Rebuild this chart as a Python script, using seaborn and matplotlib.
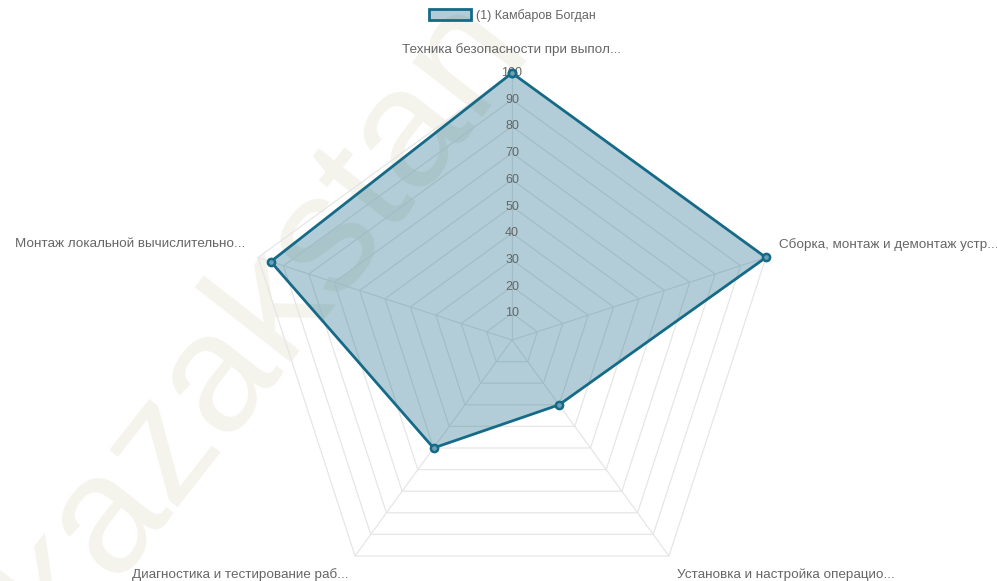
import numpy as np
import pandas as pd
import matplotlib
matplotlib.use("Agg")
import matplotlib.pyplot as plt
from matplotlib.patches import Patch
import seaborn as sns

categories = [
    "Техника безопасности при выпол...",
    "Сборка, монтаж и демонтаж устр...",
    "Установка и настройка операцио...",
    "Диагностика и тестирование раб...",
    "Монтаж локальной вычислительно...",
]
values = [100, 100, 30, 50, 95]
series_name = "(1) Камбаров Богдан"
ticks = [10, 20, 30, 40, 50, 60, 70, 80, 90, 100]

sns.set_style("white")
plt.rcParams["font.family"] = ["Liberation Sans", "DejaVu Sans"]

LINE = "#156a87"
FILL = (21 / 255, 106 / 255, 135 / 255, 0.33)
GRID = "#e6e6e6"
TXT = "#666666"

fig = plt.figure(figsize=(9.97, 5.81), dpi=100)

# watermark
fig.text(0.262, 0.455, "kazakstan", rotation=52, fontsize=122, color="#f4f3ec",
         ha="center", va="center", zorder=-1, fontweight="normal",
         rotation_mode="anchor")

cx, cy, R = 512 / 997, 1 - 340 / 581, 267
ax = fig.add_axes([cx - R / 997, cy - R / 581, 2 * R / 997, 2 * R / 581],
                  projection="polar")
ax.patch.set_alpha(0)
ax.set_theta_offset(np.pi / 2)
ax.set_theta_direction(-1)
ax.set_ylim(0, 100)
ax.grid(False)
ax.spines["polar"].set_visible(False)
ax.set_xticks([])
ax.set_yticks([])

n = len(categories)
theta = np.linspace(0, 2 * np.pi, n, endpoint=False)
theta_c = np.append(theta, theta[0])

for lv in ticks:
    ax.plot(theta_c, [lv] * (n + 1), color=GRID, lw=0.9, zorder=1, clip_on=False)
for t in theta:
    ax.plot([t, t], [0, 100], color=GRID, lw=0.9, zorder=1, clip_on=False)

vals_c = values + values[:1]
ax.fill(theta_c, vals_c, color=FILL, lw=0, zorder=2)

for lv in ticks:
    ax.text(0, lv, str(lv), ha="center", va="center", color=TXT, fontsize=9,
            zorder=3)

df = pd.DataFrame({"theta": theta_c, "value": vals_c})
sns.lineplot(data=df, x="theta", y="value", sort=False, estimator=None, ax=ax,
             color=LINE, lw=2, marker="o", markersize=5.2,
             markerfacecolor="#6f9fb2", markeredgecolor=LINE,
             markeredgewidth=1.8, zorder=4, clip_on=False)
ax.set_xlabel("")
ax.set_ylabel("")
ax.set_xticks([])
ax.set_yticks([])
ax.set_ylim(0, 100)

# point labels (offsets in pixels -> points)
offs = [((0, 23), "center"), ((13, 13), "left"), ((8, -19), "left"),
        ((-7, -19), "right"), ((-13, 13), "right")]
for t, lab, ((dx, dy), ha) in zip(theta, categories, offs):
    ax.annotate(lab, xy=(t, 100), xytext=(dx * 0.72, dy * 0.72),
                textcoords="offset points", ha=ha, va="center", color=TXT,
                fontsize=9.7, annotation_clip=False)

handle = Patch(facecolor=FILL, edgecolor=LINE, lw=2)
fig.legend(handles=[handle], labels=[series_name], loc="center",
           bbox_to_anchor=(0.514, 0.974), frameon=False, fontsize=9,
           handlelength=3.4, handleheight=1.0, handletextpad=0.4,
           labelcolor=TXT)

fig.savefig("out.png", dpi=100)
